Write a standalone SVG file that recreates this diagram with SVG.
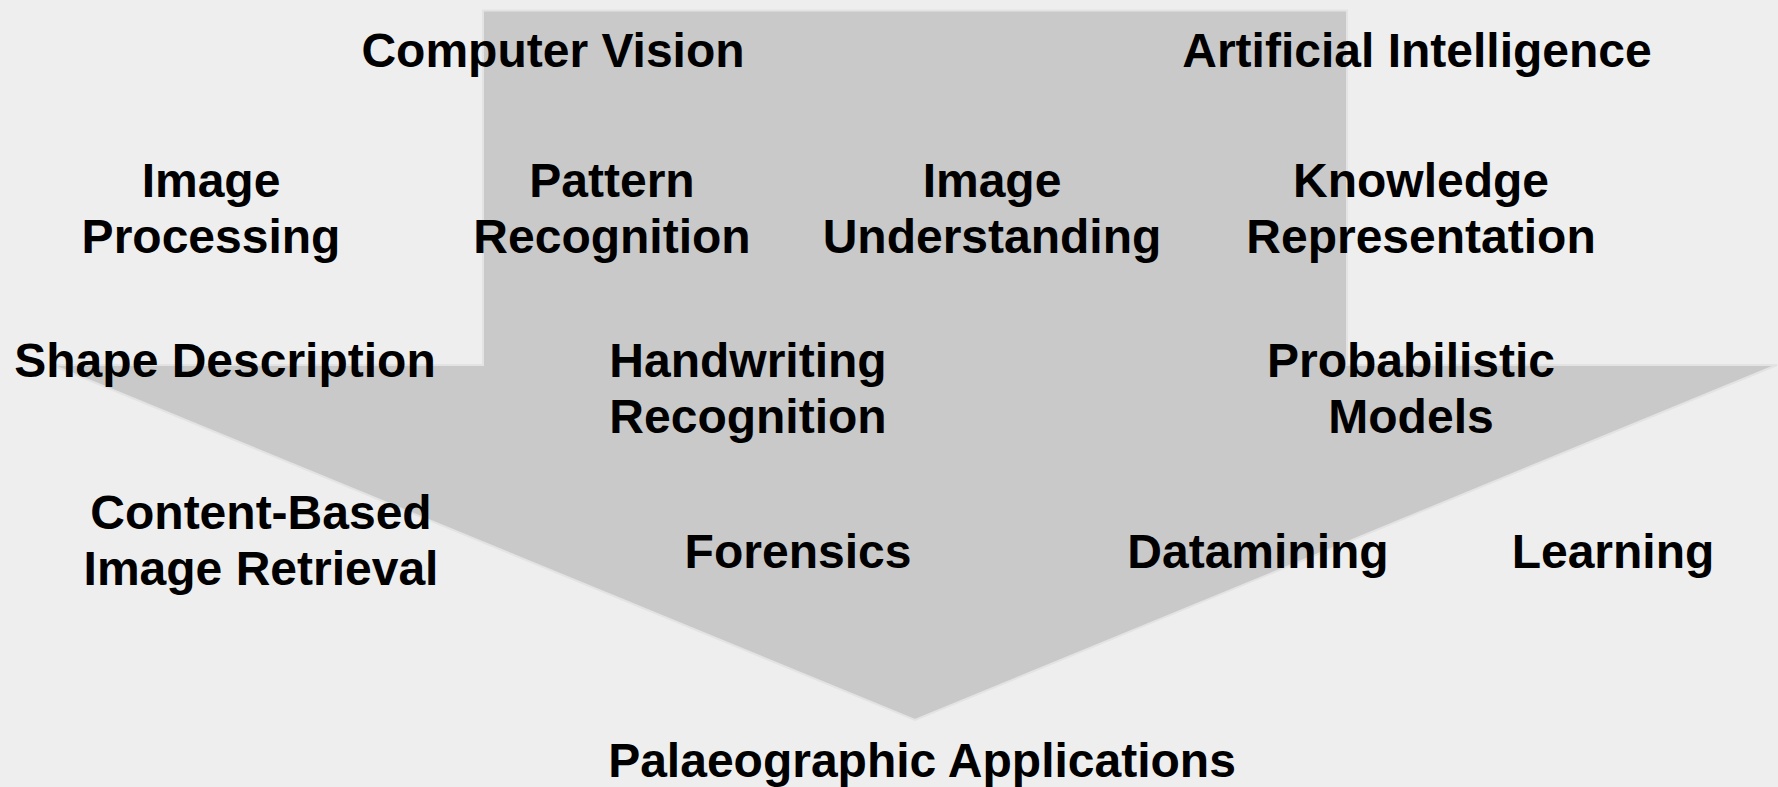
<svg xmlns="http://www.w3.org/2000/svg" width="1778" height="787" viewBox="0 0 1778 787">
  <style>
    .bg { fill: #eeeeee; }
    .arrow { fill: #c9c9c9; stroke: #e3e3e3; stroke-width: 2; stroke-linejoin: miter; }
    text { font-family: "Liberation Sans", Arial, Helvetica, sans-serif; font-weight: bold; font-size: 48px; fill: #000000; text-anchor: middle; }
  </style>
  <rect class="bg" x="0" y="0" width="1778" height="787"/>

  <!-- Broad downward arrow behind the labels -->
  <g id="connectors">
    <path class="arrow" d="M483 10.5 H1347 V365 H1777 L915 720 L52 365 H483 Z"/>
  </g>

  <g id="computer-vision"><text x="553" y="67">Computer Vision</text></g>
  <g id="artificial-intelligence"><text x="1417" y="67">Artificial Intelligence</text></g>

  <g id="image-processing"><text x="211" y="197">Image</text><text x="211" y="253">Processing</text></g>
  <g id="pattern-recognition"><text x="612" y="197">Pattern</text><text x="612" y="253">Recognition</text></g>
  <g id="image-understanding"><text x="992" y="197">Image</text><text x="992" y="253">Understanding</text></g>
  <g id="knowledge-representation"><text x="1421" y="197">Knowledge</text><text x="1421" y="253">Representation</text></g>

  <g id="shape-description"><text x="225" y="377">Shape Description</text></g>
  <g id="handwriting-recognition"><text x="748" y="377">Handwriting</text><text x="748" y="433">Recognition</text></g>
  <g id="probabilistic-models"><text x="1411" y="377">Probabilistic</text><text x="1411" y="433">Models</text></g>

  <g id="cbir"><text x="261" y="529">Content-Based</text><text x="261" y="585">Image Retrieval</text></g>
  <g id="forensics"><text x="798" y="568">Forensics</text></g>
  <g id="datamining"><text x="1258" y="568">Datamining</text></g>
  <g id="learning"><text x="1613" y="568">Learning</text></g>

  <g id="palaeographic-applications"><text x="922" y="777">Palaeographic Applications</text></g>
</svg>
